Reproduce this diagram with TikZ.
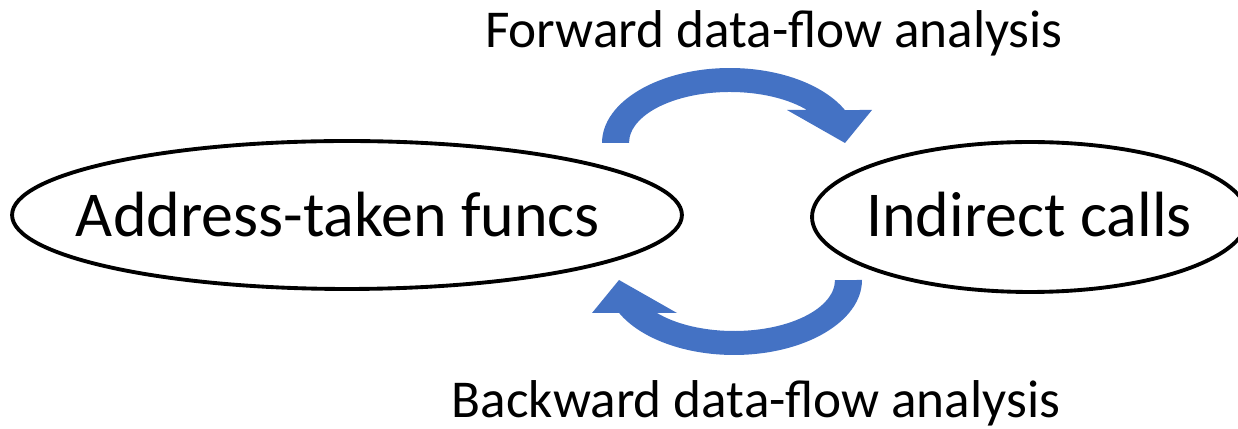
\documentclass[tikz,border=0pt]{standalone}
\usepackage{fontspec}
\setmainfont{Carlito}
\definecolor{arrowblue}{HTML}{4472C4}
\begin{document}
\begin{tikzpicture}[x=0.02cm,y=0.02cm,
  ovaltext/.style={inner sep=0pt,font=\fontsize{36.4}{44}\selectfont},
  ovalline/.style={draw,line width=2.2pt},
  lbl/.style={anchor=base,inner sep=0pt,font=\fontsize{30.3}{36}\selectfont},
  curvedarrow/.style={fill=arrowblue,draw=none},
  flowarrow/.pic={
    \fill[curvedarrow] (602,286) arc[start angle=180,end angle=26.1,x radius=2.56cm,y radius=1.5cm]
      -- (872,319) -- (845,286) -- (787,319) -- (807,319)
      arc[start angle=40.3,end angle=180,x radius=2.02cm,y radius=1.02cm] -- cycle;
  }]
\clip (0,0) rectangle (1238,429);
\coordinate (atfc) at (347,214);
\coordinate (icc) at (1030,212);
\draw[ovalline] (atfc) ellipse[x radius=6.7cm,y radius=1.48cm];
\draw[ovalline] (icc) ellipse[x radius=4.36cm,y radius=1.5cm];
\node[ovaltext] (atf) at (338,214) {Address-taken funcs};
\node[ovaltext] (ic) at (1029,214) {Indirect calls};
\node[lbl] (fwd) at (774,381) {Forward data-flow analysis};
\node[lbl] (bwd) at (756,11) {Backward data-flow analysis};
\pic at (0,0) {flowarrow};
\pic[rotate around={180:(732,217.5)}] at (0,0) {flowarrow};
\end{tikzpicture}
\end{document}
